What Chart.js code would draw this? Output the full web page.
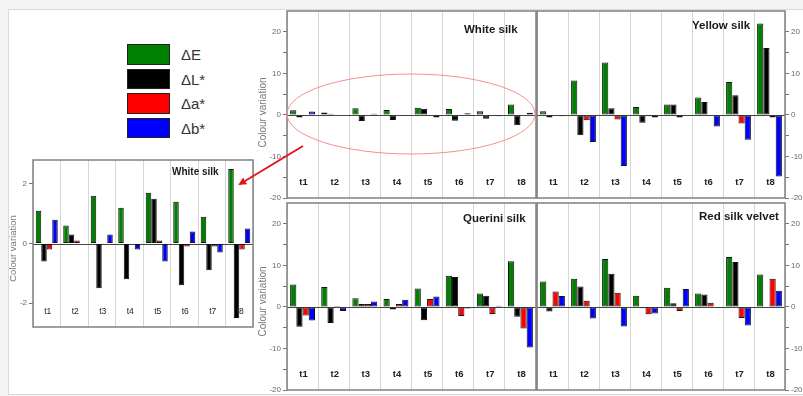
<!DOCTYPE html>
<html>
<head>
<meta charset="utf-8">
<script src="https://cdn.jsdelivr.net/npm/chart.js@4.4.0/dist/chart.umd.min.js"></script>
<style>
  html, body { margin: 0; padding: 0; width: 803px; height: 396px; overflow: hidden; background: #f3f3f3; font-family: "Liberation Sans", Arial, sans-serif; }
  #sheet { position: absolute; left: 8px; top: 9px; width: 800px; height: 384px; background: #fff; border: 1px solid #dadada; }
  canvas { position: absolute; }
  #legend { position: absolute; left: 127px; top: 44px; }
  #legend .row { height: 24.5px; display: flex; align-items: flex-start; }
  #legend .sw { width: 41px; height: 18.5px; border: 1.5px solid #222; }
  #legend .txt { margin-left: 11px; font-size: 15px; line-height: 21px; color: #333; }
  #marks { position: absolute; left: 0; top: 0; pointer-events: none; }
</style>
</head>
<body>
<div id="sheet"></div>
<div id="legend"></div>
<canvas id="cInset" width="254" height="179" style="left:0px;top:154px"></canvas>
<canvas id="cWhite" width="287" height="199" style="left:250px;top:5px"></canvas>
<canvas id="cYellow" width="267" height="199" style="left:536px;top:5px"></canvas>
<canvas id="cQuerini" width="287" height="199" style="left:250px;top:197px"></canvas>
<canvas id="cRed" width="267" height="199" style="left:536px;top:197px"></canvas>
<svg id="marks" width="803" height="396">
  <defs>
    <marker id="head" markerWidth="8" markerHeight="8" refX="6" refY="4" orient="auto" markerUnits="userSpaceOnUse">
      <path d="M0,0 L8,4 L0,8 z" fill="#e8141c"/>
    </marker>
  </defs>
  <ellipse cx="411" cy="114" rx="124" ry="40" fill="none" stroke="#f29090" stroke-width="1"/>
  <line x1="303" y1="146" x2="240" y2="184" stroke="#e8141c" stroke-width="2" marker-end="url(#head)"/>
</svg>
<script>
// sampling periods and colour coordinates
const periods = ['t1', 't2', 't3', 't4', 't5', 't6', 't7', 't8'];
const seriesNames = ['\u0394E', '\u0394L*', '\u0394a*', '\u0394b*'];
const seriesColors = ['#008000', '#000000', '#ff0000', '#0000ff'];

// White silk
const whiteE = [1.1, 0.6, 1.6, 1.2, 1.7, 1.4, 0.9, 2.5];
const whiteL = [-0.6, 0.3, -1.5, -1.2, 1.5, -1.4, -0.9, -2.5];
const whiteA = [-0.2, 0.1, 0.0, 0.0, 0.1, -0.1, -0.1, -0.2];
const whiteB = [0.8, 0.0, 0.3, -0.2, -0.6, 0.4, -0.3, 0.5];

// Yellow silk
const yellowE = [0.9, 8.3, 12.6, 1.9, 2.5, 4.2, 7.9, 22.0];
const yellowL = [-0.6, -4.9, 1.6, -1.9, 2.5, 3.1, 4.7, 16.1];
const yellowA = [-0.1, -1.3, -1.1, -0.3, -0.6, 0.0, -2.1, -0.6];
const yellowB = [-0.3, -6.5, -12.3, -0.6, 0.0, -2.8, -6.0, -14.8];

// Querini silk
const queriniE = [5.4, 4.8, 2.1, 1.9, 4.4, 7.5, 3.2, 11.0];
const queriniL = [-4.8, -3.9, 0.7, -0.6, -3.2, 7.2, 2.7, -2.4];
const queriniA = [-2.1, 0.2, 0.7, 0.7, 1.9, -2.2, -1.7, -5.2];
const queriniB = [-3.3, -1.0, 1.3, 1.7, 2.5, -0.4, 0.3, -9.8];

// Red silk velvet
const redE = [6.1, 6.8, 11.5, 2.7, 4.6, 3.2, 12.0, 7.8];
const redL = [-1.1, 4.9, 8.0, -0.3, 0.9, 3.0, 10.8, 0.0];
const redA = [3.7, 1.5, 3.4, -1.8, -1.0, 1.0, -2.7, 6.8];
const redB = [2.6, -2.8, -4.7, -1.6, 4.3, -0.2, -4.5, 3.9];

// y ticks
const bigTicks = [-20, -15, -10, -5, 0, 5, 10, 15, 20];
const bigTickLabels = [-20, -10, 0, 10, 20];
const insetTicks = [-2, 0, 2];
const insetTickLabels = [-2, 0, 2];

Chart.defaults.font.family = '"Liberation Sans", Arial, sans-serif';

// legend
const legendBox = document.getElementById('legend');
seriesNames.forEach((name, k) => {
  const row = document.createElement('div');
  row.className = 'row';
  row.innerHTML = '<div class="sw" style="background:' + seriesColors[k] + '"></div><div class="txt">' + name + '</div>';
  legendBox.appendChild(row);
});

// zero line, frame, period labels, panel title
const panelDecor = {
  id: 'panelDecor',
  beforeDatasetsDraw(chart, args, o) {
    const { ctx, chartArea: a, scales: { y } } = chart;
    const y0 = Math.round(y.getPixelForValue(0)) + 0.5;
    ctx.save();
    ctx.strokeStyle = '#444';
    ctx.lineWidth = 1;
    ctx.beginPath();
    ctx.moveTo(a.left, y0);
    ctx.lineTo(a.right, y0);
    ctx.stroke();
    ctx.restore();
  },
  afterDraw(chart, args, o) {
    const { ctx, chartArea: a, scales: { x, y } } = chart;
    ctx.save();
    ctx.strokeStyle = '#808080';
    ctx.lineWidth = 1.5;
    ctx.strokeRect(a.left, a.top, a.right - a.left, a.bottom - a.top);

    ctx.fillStyle = '#222';
    ctx.font = o.labelFont;
    ctx.textAlign = 'center';
    ctx.textBaseline = 'middle';
    const ly = y.getPixelForValue(o.labelAt);
    chart.data.labels.forEach((t, i) => ctx.fillText(t, x.getPixelForValue(i) + 1, ly));

    ctx.font = o.titleFont;
    ctx.textAlign = 'left';
    ctx.fillStyle = '#1a1a1a';
    ctx.fillText(o.title, a.left + o.titleX, a.top + o.titleY);

    if (o.axisX !== undefined) {
      ctx.translate(a.left + o.axisX, (a.top + a.bottom) / 2 + o.axisDy);
      ctx.rotate(-Math.PI / 2);
      ctx.font = o.axisFont;
      ctx.fillStyle = '#777';
      ctx.textAlign = 'center';
      ctx.fillText('Colour variation', 0, 0);
    }
    ctx.restore();
  }
};

function makePanel(id, p) {
  return new Chart(document.getElementById(id), {
    type: 'bar',
    data: {
      labels: periods,
      datasets: p.series.map((vals, k) => ({
        label: seriesNames[k],
        data: vals,
        backgroundColor: seriesColors[k],
        borderColor: '#111',
        borderWidth: 1,
        borderSkipped: false,
        categoryPercentage: 0.8,
        barPercentage: 1.0
      }))
    },
    options: {
      responsive: false,
      animation: false,
      layout: { padding: p.pad },
      plugins: {
        legend: { display: false },
        tooltip: { enabled: false },
        panelDecor: p.decor
      },
      scales: {
        x: {
          grid: { offset: true, color: '#d6d6d6', lineWidth: 1, drawTicks: false },
          ticks: { display: false },
          border: { display: false },
          afterFit(s) { s.height = 0; s.paddingLeft = 0; s.paddingRight = 0; }
        },
        y: {
          position: p.side,
          min: p.min,
          max: p.max,
          afterBuildTicks(s) { s.ticks = p.ticks.map(v => ({ value: v })); },
          ticks: {
            callback: v => p.tickLabels.includes(v) ? String(v) : '',
            color: '#666',
            font: { size: 8 },
            padding: 2
          },
          grid: { drawOnChartArea: false, tickLength: 4, color: '#777' },
          border: { display: false },
          afterFit(s) { s.width = p.axisWidth; s.paddingTop = 0; s.paddingBottom = 0; }
        }
      }
    },
    plugins: [panelDecor]
  });
}

const bigDecor = { labelAt: -16.2, labelFont: 'bold 9.5px "Liberation Sans", Arial', titleFont: 'bold 11.5px "Liberation Sans", Arial' };

makePanel('cWhite', {
  series: [whiteE, whiteL, whiteA, whiteB], side: 'left', axisWidth: 37,
  pad: { top: 6, bottom: 6, left: 0, right: 1 },
  min: -20, max: 25, ticks: bigTicks, tickLabels: bigTickLabels,
  decor: Object.assign({ title: 'White silk', titleX: 177, titleY: 19, axisX: -24, axisDy: 8, axisFont: '10px "Liberation Sans", Arial' }, bigDecor)
});

makePanel('cYellow', {
  series: [yellowE, yellowL, yellowA, yellowB], side: 'right', axisWidth: 18,
  pad: { top: 6, bottom: 6, left: 1, right: 0 },
  min: -20, max: 25, ticks: bigTicks, tickLabels: bigTickLabels,
  decor: Object.assign({ title: 'Yellow silk', titleX: 155, titleY: 15 }, bigDecor)
});

makePanel('cQuerini', {
  series: [queriniE, queriniL, queriniA, queriniB], side: 'left', axisWidth: 37,
  pad: { top: 6, bottom: 6, left: 0, right: 1 },
  min: -20, max: 25, ticks: bigTicks, tickLabels: bigTickLabels,
  decor: Object.assign({ title: 'Querini silk', titleX: 176, titleY: 16, axisX: -24, axisDy: 5, axisFont: '10px "Liberation Sans", Arial' }, bigDecor)
});

makePanel('cRed', {
  series: [redE, redL, redA, redB], side: 'right', axisWidth: 18,
  pad: { top: 6, bottom: 6, left: 1, right: 0 },
  min: -20, max: 25, ticks: bigTicks, tickLabels: bigTickLabels,
  decor: Object.assign({ title: 'Red silk velvet', titleX: 162, titleY: 14 }, bigDecor)
});

// zoomed-in view of the white silk values
makePanel('cInset', {
  series: [whiteE, whiteL, whiteA, whiteB], side: 'left', axisWidth: 33,
  pad: { top: 6, bottom: 6, left: 0, right: 1 },
  min: -2.8, max: 2.8, ticks: insetTicks, tickLabels: insetTickLabels,
  decor: {
    title: 'White silk', titleX: 139, titleY: 12, titleFont: 'bold 10px "Liberation Sans", Arial',
    labelAt: -2.3, labelFont: '8.5px "Liberation Sans", Arial',
    axisX: -20, axisDy: 5, axisFont: '9.5px "Liberation Sans", Arial'
  }
});
</script>
</body>
</html>
